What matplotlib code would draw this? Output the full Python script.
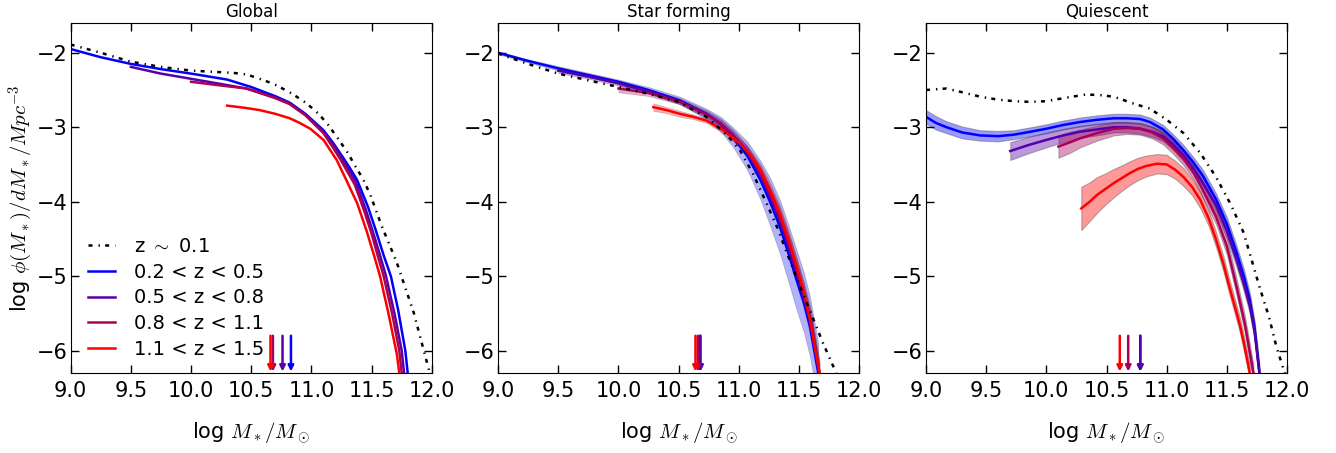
import numpy as np
import matplotlib
matplotlib.use("Agg")
import matplotlib.pyplot as plt
from matplotlib.lines import Line2D

plt.rcParams['mathtext.fontset'] = 'cm'
plt.rcParams['font.family'] = ['DejaVu Sans']

# ---- data (log M*, log phi) ----
labels = [r'z $\sim$ 0.1', '0.2 < z < 0.5', '0.5 < z < 0.8', '0.8 < z < 1.1', '1.1 < z < 1.5']
colors = ['#0000ff', '#5500aa', '#aa0055', '#ff0000']
titles = ['Global', 'Star forming', 'Quiescent']

# Global
gl_x_local = [9.0, 9.25, 9.5, 9.75, 10.0, 10.35, 10.46, 10.57, 10.69, 10.84, 10.96, 11.06, 11.14, 11.22,
              11.3, 11.36, 11.43, 11.49, 11.58, 11.71, 11.85, 11.96, 12.0]
gl_y_local = [-1.89, -2.0, -2.12, -2.19, -2.24, -2.27, -2.29, -2.35, -2.42, -2.55, -2.68, -2.82, -2.97, -3.15,
              -3.34, -3.51, -3.7, -3.91, -4.31, -4.82, -5.49, -6.16, -6.4]
gl_x_z1 = [9.0, 9.25, 9.5, 9.75, 10.0, 10.3, 10.5, 10.71, 10.82, 10.95, 11.1, 11.18, 11.26, 11.32, 11.38, 11.47,
           11.53, 11.6, 11.66, 11.72, 11.78, 11.8]
gl_y_z1 = [-1.95, -2.06, -2.15, -2.22, -2.28, -2.36, -2.46, -2.59, -2.67, -2.82, -3.04, -3.21, -3.4, -3.55,
           -3.71, -4.07, -4.36, -4.72, -5.0, -5.45, -6.0, -6.3]
gl_x_z2 = [9.5, 9.75, 10.0, 10.25, 10.46, 10.7, 10.82, 10.95, 11.1, 11.18, 11.25, 11.31, 11.37, 11.45, 11.51,
           11.57, 11.62, 11.69, 11.75, 11.77]
gl_y_z2 = [-2.19, -2.28, -2.35, -2.42, -2.48, -2.6, -2.68, -2.83, -3.06, -3.23, -3.41, -3.57, -3.74, -4.1,
           -4.4, -4.72, -5.0, -5.5, -6.0, -6.3]
gl_x_z3 = [10.0, 10.25, 10.46, 10.7, 10.82, 10.95, 11.1, 11.17, 11.24, 11.3, 11.36, 11.44, 11.5, 11.55,
           11.6, 11.67, 11.73, 11.75]
gl_y_z3 = [-2.39, -2.44, -2.48, -2.61, -2.69, -2.84, -3.08, -3.25, -3.43, -3.6, -3.77, -4.13, -4.43, -4.72,
           -5.0, -5.5, -6.0, -6.3]
gl_x_z4 = [10.3, 10.45, 10.57, 10.7, 10.82, 10.9, 10.99, 11.1, 11.21, 11.29, 11.38, 11.46, 11.52, 11.57,
           11.64, 11.71, 11.73]
gl_y_z4 = [-2.71, -2.74, -2.77, -2.82, -2.88, -2.94, -3.02, -3.17, -3.44, -3.71, -4.02, -4.4, -4.72, -5.0,
           -5.5, -6.05, -6.3]

# Star forming
sf_x_local = [9.0, 9.25, 9.5, 9.75, 10.0, 10.25, 10.5, 10.73, 10.9, 11.01, 11.12, 11.23, 11.32, 11.4, 11.51,
              11.62, 11.7, 11.79, 11.82]
sf_y_local = [-2.01, -2.15, -2.28, -2.37, -2.46, -2.55, -2.66, -2.86, -3.1, -3.31, -3.63, -4.02, -4.35, -4.69,
              -5.14, -5.58, -5.9, -6.23, -6.35]
sf_x_z1 = [9.0, 9.25, 9.5, 9.75, 10.0, 10.25, 10.51, 10.73, 10.85, 10.95, 11.07, 11.18, 11.26, 11.34, 11.41,
           11.48, 11.54, 11.59, 11.66]
sf_y_z1 = [-2.0, -2.11, -2.21, -2.3, -2.39, -2.5, -2.64, -2.82, -2.96, -3.13, -3.38, -3.71, -4.0, -4.33, -4.68,
           -5.05, -5.35, -5.67, -6.3]
sf_e_z1 = [0.02, 0.02, 0.03, 0.03, 0.03, 0.04, 0.05, 0.07, 0.1, 0.13, 0.19, 0.26, 0.32, 0.36, 0.38, 0.4, 0.4,
           0.4, 0.4]
sf_x_z2 = [9.5, 9.75, 10.0, 10.25, 10.51, 10.73, 10.85, 10.95, 11.07, 11.18, 11.26, 11.34, 11.41, 11.48, 11.54,
           11.6, 11.67]
sf_y_z2 = [-2.24, -2.32, -2.41, -2.52, -2.65, -2.82, -2.95, -3.1, -3.33, -3.64, -3.93, -4.25, -4.58, -4.96,
           -5.28, -5.65, -6.3]
sf_e_z2 = [0.03, 0.03, 0.03, 0.03, 0.04, 0.05, 0.06, 0.07, 0.08, 0.1, 0.12, 0.13, 0.14, 0.15, 0.15, 0.15, 0.15]
sf_x_z3 = [10.0, 10.25, 10.51, 10.73, 10.85, 10.95, 11.07, 11.18, 11.26, 11.34, 11.41, 11.48, 11.54, 11.6,
           11.67]
sf_y_z3 = [-2.48, -2.54, -2.66, -2.83, -2.95, -3.1, -3.32, -3.62, -3.9, -4.2, -4.53, -4.9, -5.23, -5.6, -6.3]
sf_e_z3 = [0.05, 0.04, 0.03, 0.04, 0.05, 0.05, 0.07, 0.09, 0.1, 0.12, 0.13, 0.14, 0.15, 0.15, 0.15]
sf_x_z4 = [10.29, 10.4, 10.51, 10.62, 10.73, 10.87, 11.01, 11.1, 11.18, 11.26, 11.34, 11.41, 11.48, 11.54,
           11.59, 11.67]
sf_y_z4 = [-2.73, -2.77, -2.82, -2.86, -2.91, -3.04, -3.22, -3.38, -3.58, -3.85, -4.16, -4.5, -4.87, -5.22,
           -5.58, -6.3]
sf_e_z4 = [0.05, 0.04, 0.04, 0.03, 0.03, 0.04, 0.05, 0.06, 0.08, 0.1, 0.11, 0.12, 0.12, 0.12, 0.12, 0.12]

# Quiescent
q_x_local = [9.0, 9.17, 9.3, 9.45, 9.6, 9.73, 9.87, 10.0, 10.14, 10.33, 10.45, 10.56, 10.72, 10.86, 11.0, 11.14,
             11.28, 11.41, 11.53, 11.64, 11.77, 11.85, 11.91, 11.97, 12.0]
q_y_local = [-2.5, -2.48, -2.53, -2.59, -2.63, -2.65, -2.66, -2.65, -2.61, -2.56, -2.57, -2.59, -2.68, -2.75,
             -2.9, -3.08, -3.35, -3.67, -4.03, -4.42, -5.14, -5.55, -5.94, -6.25, -6.4]
q_x_z1 = [9.0, 9.08, 9.17, 9.3, 9.45, 9.6, 9.73, 9.87, 10.0, 10.14, 10.28, 10.42, 10.56, 10.67, 10.78, 10.86,
          10.97, 11.05, 11.14, 11.22, 11.3, 11.41, 11.5, 11.58, 11.64, 11.69, 11.73, 11.77]
q_y_z1 = [-2.86, -2.94, -3.0, -3.07, -3.11, -3.12, -3.1, -3.06, -3.02, -2.97, -2.93, -2.9, -2.88, -2.88, -2.89,
          -2.93, -3.03, -3.15, -3.31, -3.47, -3.65, -3.97, -4.3, -4.68, -5.0, -5.32, -5.7, -6.3]
q_e_z1 = [0.09, 0.09, 0.08, 0.08, 0.07, 0.07, 0.06, 0.06, 0.06, 0.06, 0.06, 0.06, 0.06, 0.06, 0.06, 0.06,
          0.06, 0.06, 0.07, 0.07, 0.08, 0.08, 0.09, 0.09, 0.1, 0.1, 0.1, 0.1]
q_x_z2 = [9.7, 9.85, 10.0, 10.14, 10.28, 10.42, 10.56, 10.67, 10.78, 10.88, 10.97, 11.05, 11.14, 11.22, 11.3,
          11.41, 11.5, 11.58, 11.64, 11.69, 11.73, 11.77]
q_y_z2 = [-3.32, -3.24, -3.17, -3.11, -3.06, -3.03, -3.0, -3.0, -3.02, -3.06, -3.12, -3.23, -3.38, -3.55,
          -3.75, -4.05, -4.4, -4.78, -5.1, -5.4, -5.75, -6.3]
q_e_z2 = [0.12, 0.11, 0.1, 0.09, 0.08, 0.08, 0.07, 0.07, 0.07, 0.07, 0.07, 0.07, 0.08, 0.08, 0.08, 0.09, 0.09,
          0.1, 0.1, 0.1, 0.1, 0.1]
q_x_z3 = [10.1, 10.2, 10.28, 10.42, 10.56, 10.67, 10.78, 10.88, 10.97, 11.05, 11.14, 11.22, 11.28, 11.41, 11.5,
          11.58, 11.65, 11.72]
q_y_z3 = [-3.26, -3.2, -3.15, -3.08, -3.02, -3.01, -3.02, -3.07, -3.15, -3.27, -3.42, -3.6, -3.78, -4.2,
          -4.6, -5.14, -5.65, -6.3]
q_e_z3 = [0.15, 0.14, 0.12, 0.1, 0.09, 0.08, 0.08, 0.08, 0.08, 0.08, 0.09, 0.09, 0.1, 0.1, 0.11, 0.11, 0.11,
          0.11]
q_x_z4 = [10.29, 10.36, 10.42, 10.49, 10.56, 10.63, 10.69, 10.76, 10.83, 10.92, 11.0, 11.07, 11.14, 11.21,
          11.28, 11.35, 11.41, 11.47, 11.52, 11.57, 11.61, 11.65, 11.69]
q_y_z4 = [-4.09, -4.0, -3.91, -3.83, -3.75, -3.68, -3.62, -3.56, -3.52, -3.49, -3.5, -3.57, -3.67, -3.8,
          -3.98, -4.23, -4.51, -4.83, -5.14, -5.43, -5.67, -5.97, -6.3]
q_e_z4 = [0.29, 0.26, 0.24, 0.21, 0.19, 0.17, 0.16, 0.15, 0.14, 0.13, 0.13, 0.12, 0.12, 0.11, 0.11, 0.1, 0.1,
          0.1, 0.1, 0.1, 0.1, 0.1, 0.1]

# mass completeness arrows (blue, purple, maroon, red)
gl_arrows = [10.83, 10.76, 10.68, 10.66]
sf_arrows = [10.68, 10.68, 10.66, 10.64]
q_arrows = [10.78, 10.78, 10.68, 10.61]

local_dash = (0, (1.6, 2.4, 0.55, 2.1))


def draw_local(ax, x, y):
    ax.plot(x, y, color='k', lw=1.8, linestyle=local_dash, zorder=5)


def draw_arrows(ax, xs):
    for x, c in zip(xs, colors):
        ax.annotate('', xy=(x, -6.28), xytext=(x, -5.8),
                    arrowprops=dict(arrowstyle='-|>', color=c, lw=1.8, mutation_scale=8,
                                    shrinkA=0, shrinkB=0))


fig = plt.figure(figsize=(13.36, 4.53), dpi=100)
lefts = [0.0529, 0.3728, 0.6931]
axes = [fig.add_axes([l, 0.1766, 0.2703, 0.7727]) for l in lefts]

# Global
ax = axes[0]
draw_local(ax, gl_x_local, gl_y_local)
for x, y, c in zip([gl_x_z1, gl_x_z2, gl_x_z3, gl_x_z4], [gl_y_z1, gl_y_z2, gl_y_z3, gl_y_z4], colors):
    ax.plot(x, y, color=c, lw=1.8)
draw_arrows(ax, gl_arrows)

# Star forming
ax = axes[1]
sf_sets = [(sf_x_z1, sf_y_z1, sf_e_z1), (sf_x_z2, sf_y_z2, sf_e_z2),
           (sf_x_z3, sf_y_z3, sf_e_z3), (sf_x_z4, sf_y_z4, sf_e_z4)]
for (x, y, e), c in zip(sf_sets, colors):
    y = np.array(y)
    e = np.array(e)
    ax.fill_between(x, y - e, y + e, facecolor=c, alpha=0.3, edgecolor='0.3', lw=0.6)
for (x, y, e), c in zip(sf_sets, colors):
    ax.plot(x, y, color=c, lw=1.8)
draw_local(ax, sf_x_local, sf_y_local)
draw_arrows(ax, sf_arrows)

# Quiescent
ax = axes[2]
q_sets = [(q_x_z1, q_y_z1, q_e_z1), (q_x_z2, q_y_z2, q_e_z2),
          (q_x_z3, q_y_z3, q_e_z3), (q_x_z4, q_y_z4, q_e_z4)]
for (x, y, e), c in zip(q_sets, colors):
    y = np.array(y)
    e = np.array(e)
    ax.fill_between(x, y - e, y + e, facecolor=c, alpha=0.4, edgecolor='0.3', lw=0.8)
for (x, y, e), c in zip(q_sets, colors):
    ax.plot(x, y, color=c, lw=1.8)
draw_local(ax, q_x_local, q_y_local)
draw_arrows(ax, q_arrows)

for ax, t in zip(axes, titles):
    ax.set_xlim(9.0, 12.0)
    ax.set_ylim(-6.3, -1.6)
    ax.set_xticks([9.0, 9.5, 10.0, 10.5, 11.0, 11.5, 12.0])
    ax.set_yticks([-6, -5, -4, -3, -2])
    ax.tick_params(direction='in', top=True, right=True, labelsize=15, length=6, width=1)
    ax.tick_params(axis='x', pad=6)
    ax.tick_params(axis='y', pad=2.5)
    ax.set_title(t, fontsize=12, pad=4)
    ax.set_xlabel(r'log $M_*/M_\odot$', fontsize=15)
    ax.xaxis.set_label_coords(0.5, -0.135)

axes[0].set_ylabel(r'log $\phi(M_*)/dM_*/Mpc^{-3}$', fontsize=15)
axes[0].yaxis.set_label_coords(-0.10, 0.5)

handles = [Line2D([], [], color='k', lw=1.8, linestyle=local_dash)]
handles += [Line2D([], [], color=c, lw=1.8) for c in colors]
axes[0].legend(handles, labels, loc='lower left', bbox_to_anchor=(0.0, -0.01), frameon=False,
               fontsize=14, handlelength=1.4, labelspacing=0.35, handletextpad=0.95)

fig.savefig('out.png', dpi=100)
